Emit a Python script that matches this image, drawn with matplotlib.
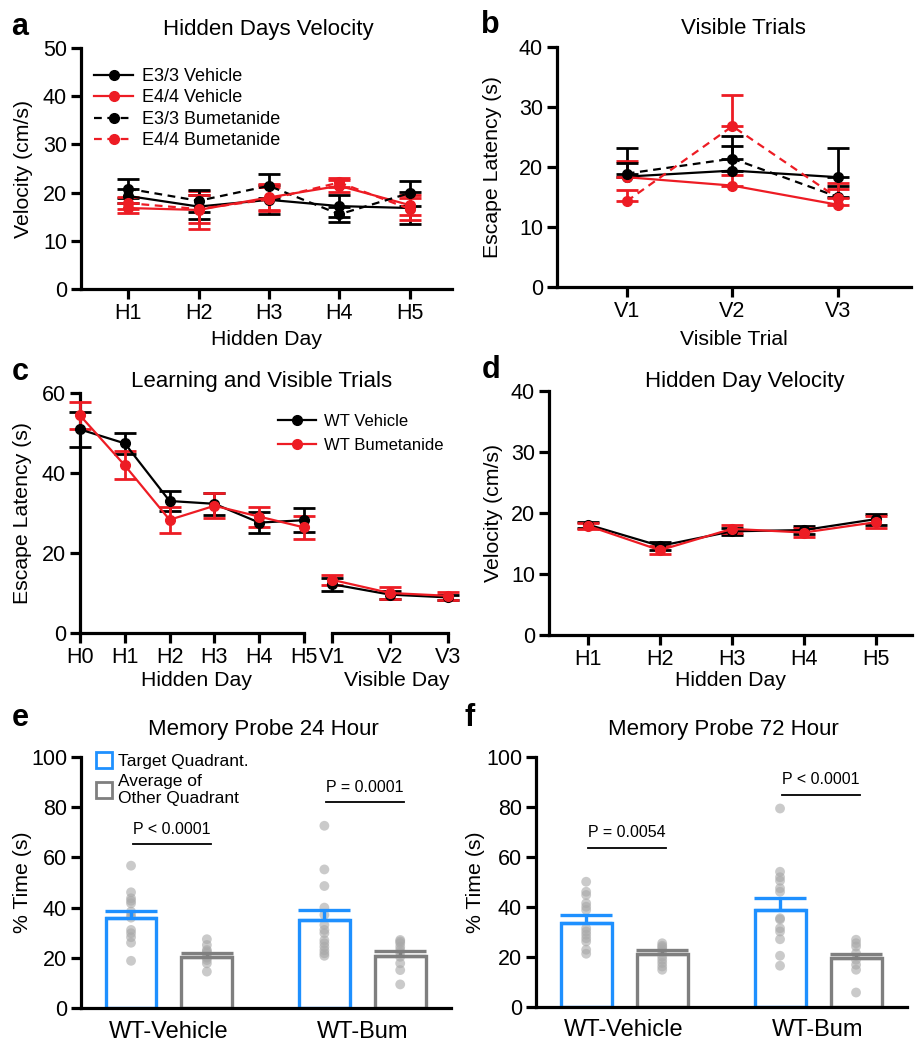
import numpy as np
import matplotlib
matplotlib.use('Agg')
import matplotlib.pyplot as plt
from matplotlib.lines import Line2D

plt.rcParams['font.family'] = ['Liberation Sans', 'DejaVu Sans']
plt.rcParams['font.size'] = 15

RED = '#ED1C24'
BLK = '#000000'
BLUE = '#1E90FF'
GRAY = '#7f7f7f'

# ---- panel a: hidden days velocity
a_days = ['H1', 'H2', 'H3', 'H4', 'H5']
a_e33_veh = [19.3, 17.1, 18.5, 17.2, 16.8]
a_e33_veh_err = [1.5, 2.5, 3.0, 2.2, 3.3]
a_e44_veh = [16.8, 16.4, 19.0, 21.4, 17.4]
a_e44_veh_err = [1.0, 4.0, 2.7, 1.2, 2.0]
a_e33_bum = [20.8, 18.3, 21.4, 15.5, 19.9]
a_e33_bum_err = [2.0, 2.3, 2.5, 1.5, 2.6]
a_e44_bum = [17.8, 16.6, 18.6, 22.1, 16.6]
a_e44_bum_err = [1.2, 3.0, 2.5, 1.0, 2.3]

# ---- panel b: visible trials (upper error only)
b_trials = ['V1', 'V2', 'V3']
b_e33_veh = [18.4, 19.4, 18.3]
b_e33_veh_err = [4.8, 4.1, 4.8]
b_e44_veh = [18.3, 16.9, 13.7]
b_e44_veh_err = [2.7, 1.7, 2.6]
b_e33_bum = [18.9, 21.4, 15.0]
b_e33_bum_err = [1.7, 3.8, 1.9]
b_e44_bum = [14.3, 26.8, 14.8]
b_e44_bum_err = [1.9, 5.2, 2.5]

# ---- panel c: learning and visible trials
c_hidden = ['H0', 'H1', 'H2', 'H3', 'H4', 'H5']
c_visible = ['V1', 'V2', 'V3']
c_veh_h = [50.9, 47.4, 33.0, 32.3, 27.6, 28.2]
c_veh_h_err = [4.3, 2.6, 2.5, 2.8, 2.6, 3.0]
c_veh_v = [12.2, 9.6, 8.9]
c_veh_v_err = [1.6, 1.0, 0.7]
c_bum_h = [54.4, 41.9, 28.3, 31.8, 29.1, 26.4]
c_bum_h_err = [3.4, 3.5, 3.2, 3.1, 2.5, 2.9]
c_bum_v = [13.3, 10.0, 9.3]
c_bum_v_err = [1.3, 1.4, 1.0]

# ---- panel d: hidden day velocity
d_days = ['H1', 'H2', 'H3', 'H4', 'H5']
d_veh = [18.1, 14.6, 17.0, 17.2, 19.0]
d_veh_err = [0.5, 0.6, 0.6, 0.6, 0.9]
d_bum = [17.9, 13.9, 17.4, 16.8, 18.5]
d_bum_err = [0.5, 0.7, 0.7, 0.8, 1.0]

# ---- panels e, f: memory probes
groups = ['WT-Vehicle', 'WT-Bum']
e_means = [35.7, 20.4, 34.9, 20.8]
e_errs = [3.1, 1.5, 4.3, 1.9]
e_points = [
    [56.7, 46.1, 43.7, 42.7, 41.7, 38.4, 37.1, 36.0, 31.1, 29.8, 28.2, 26.0, 18.8],
    [27.4, 25.1, 23.1, 22.5, 21.8, 20.4, 20.0, 19.1, 17.8, 14.5],
    [72.6, 55.2, 48.6, 40.0, 37.1, 33.1, 31.1, 29.8, 27.0, 25.8, 24.4, 23.0, 21.8, 20.8],
    [27.1, 26.5, 25.8, 24.4, 23.1, 22.0, 20.4, 17.8, 15.1, 9.4],
]
e_pvals = ['P < 0.0001', 'P = 0.0001']
e_pline = [65.3, 82.0]

f_means = [33.5, 21.3, 38.7, 19.5]
f_errs = [3.2, 1.6, 4.8, 1.9]
f_points = [
    [50.1, 46.1, 44.8, 41.5, 40.1, 38.8, 31.5, 30.2, 28.9, 27.5, 26.2, 22.9, 21.3],
    [25.5, 24.5, 23.9, 23.0, 22.2, 20.2, 18.9, 17.6, 16.2, 14.9],
    [79.4, 54.1, 51.9, 50.5, 47.5, 46.1, 35.5, 35.0, 31.5, 30.2, 27.1, 20.5, 16.5],
    [26.9, 25.5, 24.2, 21.5, 18.9, 16.9, 14.9, 5.8],
]
f_pvals = ['P = 0.0054', 'P < 0.0001']
f_pline = [63.7, 85.0]

W, H = 923, 1050
fig = plt.figure(figsize=(W / 100, H / 100), dpi=100)

TICK_FS = 15.5
LAB_FS = 15.3


def add_ax(l, r, t, b):
    return fig.add_axes([l / W, 1 - b / H, (r - l) / W, (b - t) / H])


def style(ax, xticks=True):
    for s in ['top', 'right']:
        ax.spines[s].set_visible(False)
    for s in ['left', 'bottom']:
        ax.spines[s].set_linewidth(2.3)
    ax.tick_params(width=2.3, length=7, labelsize=TICK_FS, pad=3)
    if not xticks:
        ax.tick_params(axis='x', length=0, pad=9)


def labels(ax, xl, yl, xpos, ypos, xx=0.5):
    if xl:
        ax.set_xlabel(xl, fontsize=LAB_FS)
        ax.xaxis.set_label_coords(xx, xpos)
    if yl:
        ax.set_ylabel(yl, fontsize=LAB_FS)
        ax.yaxis.set_label_coords(ypos, 0.5)


def series(ax, x, y, err, color, ls='-', upper_only=False):
    yerr = [np.zeros(len(err)), err] if upper_only else err
    ax.errorbar(x, y, yerr=yerr, fmt='none', ecolor=color, elinewidth=2,
                capsize=8, capthick=2, clip_on=False, zorder=3)
    ax.plot(x, y, color=color, ls=ls, lw=1.6, marker='o', ms=7,
            clip_on=False, zorder=4)


def flabel(x, y, txt):
    fig.text(x / W, 1 - y / H, txt, fontsize=22, fontweight='bold',
             ha='center', va='center')


def ftitle(x, y, txt):
    fig.text(x / W, 1 - y / H, txt, fontsize=16, ha='center', va='center')


dash = (0, (3.5, 2.5))

# ---- a
ax = add_ax(81, 452, 48, 289)
x = np.arange(1, 6)
series(ax, x, a_e33_veh, a_e33_veh_err, BLK)
series(ax, x, a_e44_veh, a_e44_veh_err, RED)
series(ax, x, a_e33_bum, a_e33_bum_err, BLK, dash)
series(ax, x, a_e44_bum, a_e44_bum_err, RED, dash)
ax.set_xlim(0.33, 5.6)
ax.set_ylim(0, 50)
ax.set_yticks(range(0, 51, 10))
ax.set_xticks(x, a_days)
style(ax)
labels(ax, 'Hidden Day', 'Velocity (cm/s)', -0.172, -0.129)
hands = [Line2D([], [], color=BLK, lw=1.6, marker='o', ms=7),
         Line2D([], [], color=RED, lw=1.6, marker='o', ms=7),
         Line2D([], [], color=BLK, lw=1.6, ls=dash, marker='o', ms=7),
         Line2D([], [], color=RED, lw=1.6, ls=dash, marker='o', ms=7)]
ax.legend(hands, ['E3/3 Vehicle', 'E4/4 Vehicle', 'E3/3 Bumetanide', 'E4/4 Bumetanide'],
          loc='upper left', bbox_to_anchor=(0.0, 0.97), frameon=False, fontsize=13,
          handlelength=2.2, handletextpad=0.5, labelspacing=0.25, borderaxespad=0.3)
flabel(20, 27, 'a')
ftitle(268, 29, 'Hidden Days Velocity')

# ---- b
ax = add_ax(557, 911, 47, 287)
x = np.arange(1, 4)
series(ax, x, b_e33_veh, b_e33_veh_err, BLK, upper_only=True)
series(ax, x, b_e44_veh, b_e44_veh_err, RED, upper_only=True)
series(ax, x, b_e33_bum, b_e33_bum_err, BLK, dash, upper_only=True)
series(ax, x, b_e44_bum, b_e44_bum_err, RED, dash, upper_only=True)
ax.set_xlim(0.34, 3.69)
ax.set_ylim(0, 40)
ax.set_yticks(range(0, 41, 10))
ax.set_xticks(x, b_trials)
style(ax)
labels(ax, 'Visible Trial', 'Escape Latency (s)', -0.178, -0.155)
flabel(490, 25, 'b')
ftitle(743, 29, 'Visible Trials')

# ---- c (broken x axis)
ax1 = add_ax(80, 304, 393, 633)
xh = np.arange(0, 6)
series(ax1, xh, c_veh_h, c_veh_h_err, BLK)
series(ax1, xh, c_bum_h, c_bum_h_err, RED)
ax1.set_xlim(0, 5)
ax1.set_ylim(0, 60)
ax1.set_yticks(range(0, 61, 20))
ax1.set_xticks(xh, c_hidden)
style(ax1)
labels(ax1, 'Hidden Day', 'Escape Latency (s)', -0.158, -0.214, xx=0.52)
ax2 = add_ax(332, 448, 393, 633)
xv = np.arange(1, 4)
series(ax2, xv, c_veh_v, c_veh_v_err, BLK)
series(ax2, xv, c_bum_v, c_bum_v_err, RED)
ax2.set_xlim(1, 3)
ax2.set_ylim(0, 60)
ax2.set_xticks(xv, c_visible)
ax2.set_yticks([])
style(ax2)
ax2.spines['left'].set_visible(False)
labels(ax2, 'Visible Day', None, -0.158, 0, xx=0.56)
hands = [Line2D([], [], color=BLK, lw=1.6, marker='o', ms=7),
         Line2D([], [], color=RED, lw=1.6, marker='o', ms=7)]
fig.legend(hands, ['WT Vehicle', 'WT Bumetanide'], loc='upper left',
           bbox_to_anchor=(278 / W, 1 - 414 / H), frameon=False, fontsize=12,
           handlelength=2.3, handletextpad=0.45, labelspacing=0.55,
           borderpad=0, borderaxespad=0)
flabel(20, 372, 'c')
ftitle(262, 382, 'Learning and Visible Trials')

# ---- d
ax = add_ax(549, 912, 391, 635)
x = np.arange(1, 6)
series(ax, x, d_veh, d_veh_err, BLK)
series(ax, x, d_bum, d_bum_err, RED)
ax.set_xlim(0.46, 5.5)
ax.set_ylim(0, 40)
ax.set_yticks(range(0, 41, 10))
ax.set_xticks(x, d_days)
style(ax)
labels(ax, 'Hidden Day', 'Velocity (cm/s)', -0.148, -0.127)
flabel(491, 370, 'd')
ftitle(745, 382, 'Hidden Day Velocity')


# ---- e, f
def probe(ax, means, errs, points, pvals, plines, ylab_x):
    pos = [0, 1, 2.55, 3.55]
    cols = [BLUE, GRAY, BLUE, GRAY]
    for p, m, e, c, pts in zip(pos, means, errs, cols, points):
        ax.bar(p, m, width=0.67, facecolor='white', edgecolor=c, linewidth=2.4, zorder=2)
        ax.scatter(np.full(len(pts), p), pts, s=50, color='#a8a8a8', alpha=0.6,
                   edgecolors='none', zorder=3)
        ax.errorbar(p, m, yerr=[[0], [e]], fmt='none', ecolor=c, elinewidth=2.4,
                    capsize=19, capthick=2.4, zorder=4)
    for g, (pv, yl) in enumerate(zip(pvals, plines)):
        x0 = pos[2 * g] + 0.02
        x1 = pos[2 * g + 1] + 0.05
        ax.plot([x0, x1], [yl, yl], color='black', lw=1.3)
        ax.text((x0 + x1) / 2, yl + 3, pv, ha='center', va='bottom', fontsize=11.5)
    ax.set_xlim(-0.66, 4.22)
    ax.set_ylim(0, 100)
    ax.set_yticks(range(0, 101, 20))
    ax.set_xticks([0.5, 3.05], groups)
    style(ax, xticks=False)
    ax.tick_params(axis='x', labelsize=17)
    labels(ax, None, '% Time (s)', 0, ylab_x)


ax = add_ax(81, 451, 757, 1008)
probe(ax, e_means, e_errs, e_points, e_pvals, e_pline, -0.132)
hands = [Line2D([], [], ls='none', marker='s', ms=12, mfc='white', mec=BLUE, mew=2),
         Line2D([], [], ls='none', marker='s', ms=12, mfc='white', mec=GRAY, mew=2)]
ax.legend(hands, ['Target Quadrant.', 'Average of\nOther Quadrant'], loc='upper left',
          bbox_to_anchor=(0.001, 1.076), frameon=False, fontsize=12.5,
          handlelength=0.8, handletextpad=0.4, labelspacing=0.3)
flabel(20, 718, 'e')
ftitle(263, 729, 'Memory Probe 24 Hour')

ax = add_ax(536, 907, 757, 1007)
probe(ax, f_means, f_errs, f_points, f_pvals, f_pline, -0.137)
flabel(470, 718, 'f')
ftitle(723, 729, 'Memory Probe 72 Hour')

fig.savefig('out.png', dpi=100)
plt.close(fig)
